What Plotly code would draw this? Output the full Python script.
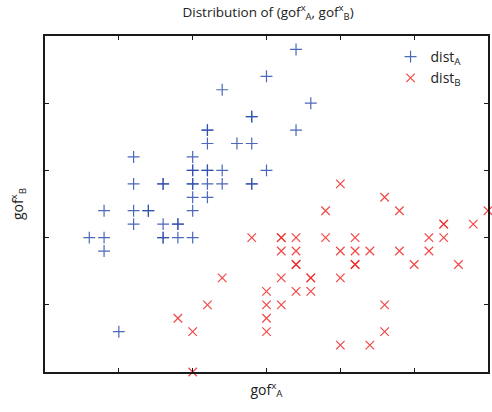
import plotly.graph_objects as go

# dist_A points (duplicates represent overlapping markers)
a_x = [3.0, 2.4, 2.8, 2.8, 2.2, 2.2, 2.2, 2.6, 2.8, 1.2, 2.0, 2.0, 2.0, 2.2, 2.2, 2.4, 3.0,
       1.2, 1.6, 1.6, 2.0, 2.0, 2.2, 2.4, 2.8, 2.8, 2.0, 2.2, 0.8, 1.2, 1.4, 1.4, 2.0,
       1.2, 1.6, 1.8, 1.8, 0.6, 0.8, 1.6, 1.6, 1.8, 2.0, 0.8, 1.0, 3.4, 3.6, 3.4]
a_y = [4.4, 4.2, 3.8, 3.8, 3.6, 3.6, 3.4, 3.4, 3.4, 3.2, 3.2, 3.0, 3.0, 3.0, 3.0, 3.0, 3.0,
       2.8, 2.8, 2.8, 2.8, 2.8, 2.8, 2.8, 2.8, 2.8, 2.6, 2.6, 2.4, 2.4, 2.4, 2.4, 2.4,
       2.2, 2.2, 2.2, 2.2, 2.0, 2.0, 2.0, 2.0, 2.0, 2.0, 1.8, 0.6, 4.8, 4.0, 3.6]

# dist_B points
b_x = [2.8, 3.2, 3.2, 3.2, 2.4, 3.2, 3.0, 2.2, 3.0, 3.2, 1.8, 3.0, 2.0, 3.0, 2.0,
       3.4, 3.8, 4.2, 5.2, 5.4, 5.4, 5.4, 5.8, 6.0, 4.0, 4.6, 3.8, 4.8,
       3.4, 4.0, 4.2, 4.4, 4.8, 5.2, 3.4, 3.4, 4.2, 4.2, 5.0, 5.6,
       3.6, 3.6, 4.0, 3.4, 3.6, 4.6, 4.6, 4.0, 4.4]
b_y = [2.0, 2.0, 2.0, 1.8, 1.4, 1.4, 1.2, 1.0, 1.0, 1.0, 0.8, 0.8, 0.6, 0.6, 0.0,
       2.0, 2.0, 2.0, 2.0, 2.0, 2.2, 2.2, 2.2, 2.4, 2.8, 2.6, 2.4, 2.4,
       1.8, 1.8, 1.8, 1.8, 1.8, 1.8, 1.6, 1.6, 1.6, 1.6, 1.6, 1.6,
       1.4, 1.4, 1.4, 1.2, 1.2, 1.0, 0.6, 0.4, 0.4]

x_ticks = [1, 2, 3, 4, 5]
y_ticks = [1, 2, 3, 4]

BLUE = "#2f4fae"
RED = "#f02828"
FONT = "Open Sans, Noto Sans, sans-serif"

fig = go.Figure()
fig.add_trace(go.Scatter(
    x=a_x, y=a_y, mode="markers", name="dist<sub>A</sub>", cliponaxis=False,
    marker=dict(symbol="cross-thin", size=8.5, opacity=0.85,
                line=dict(color=BLUE, width=1.2)),
))
fig.add_trace(go.Scatter(
    x=b_x, y=b_y, mode="markers", name="dist<sub>B</sub>", cliponaxis=False,
    marker=dict(symbol="x-thin", size=8.5, opacity=0.85,
                line=dict(color=RED, width=1.2)),
))

axis_common = dict(
    showgrid=False, zeroline=False, showline=True, linecolor="#1a1a1a",
    linewidth=1.5, mirror="ticks", ticks="inside", ticklen=4,
    tickcolor="#1a1a1a", showticklabels=False,
)

fig.update_layout(
    width=492, height=412,
    margin=dict(l=45, r=2, t=36, b=40),
    paper_bgcolor="white", plot_bgcolor="white",
    font=dict(family=FONT, color="#222222", size=12),
    title=dict(text="Distribution of (gof<sup>x</sup><sub>A</sub>, gof<sup>x</sup><sub>B</sub>)",
               x=0.5448, xanchor="center", y=0.982, yanchor="top",
               font=dict(size=13.5)),
    xaxis=dict(range=[0, 6], tickvals=x_ticks,
               title=dict(text="gof<sup>x</sup><sub>A</sub>", standoff=12, font=dict(size=14)),
               **axis_common),
    yaxis=dict(range=[0, 5], tickvals=y_ticks,
               title=dict(text="gof<sup>x</sup><sub>B</sub>", standoff=16, font=dict(size=14)),
               **axis_common),
    legend=dict(x=0.78, y=0.985, xanchor="left", yanchor="top",
                bgcolor="rgba(0,0,0,0)", borderwidth=0,
                font=dict(size=14, color="#222222"), itemwidth=30,
                tracegroupgap=10),
    showlegend=True,
)

fig.write_html("out.html")
